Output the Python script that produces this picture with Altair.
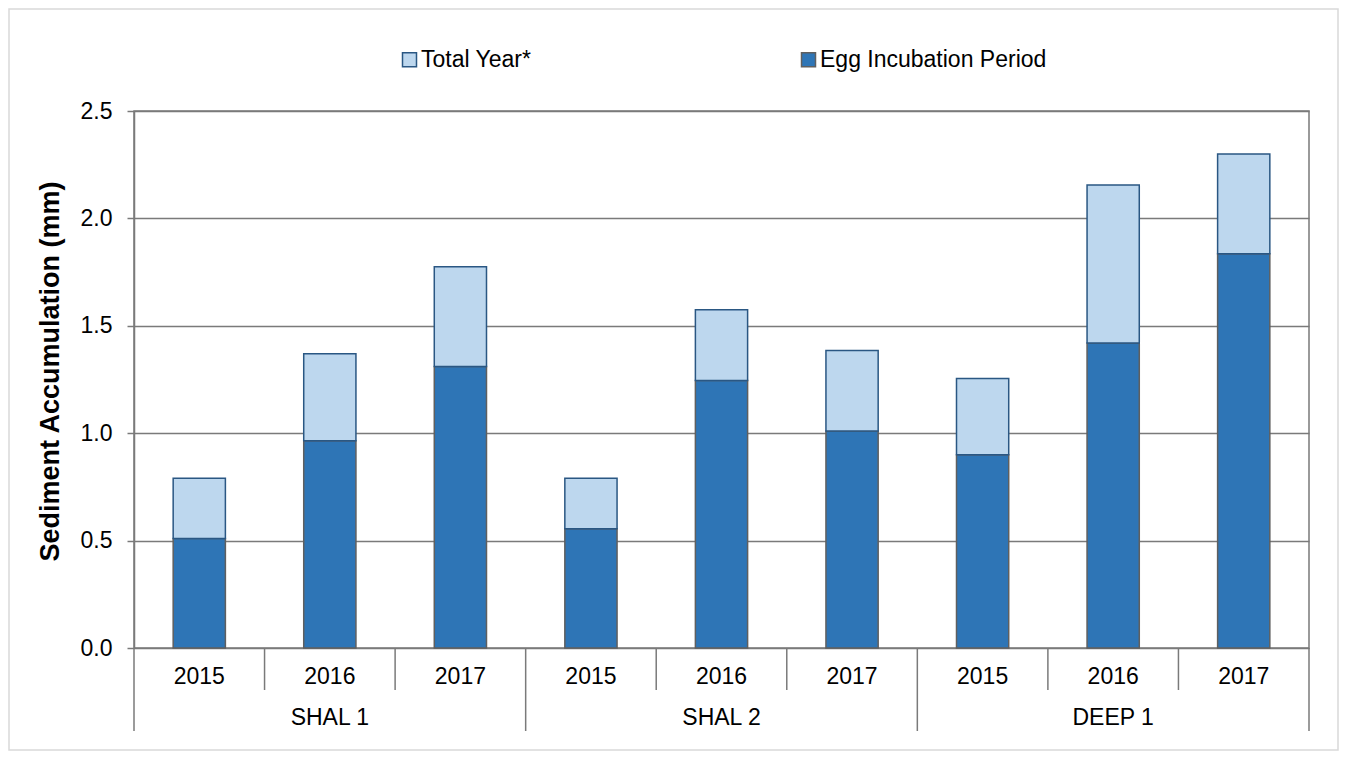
import altair as alt
import pandas as pd

# ---- data ----
groups = ["SHAL 1", "SHAL 2", "DEEP 1"]
years = ["2015", "2016", "2017"]
egg_incubation = [0.51, 0.965, 1.31, 0.555, 1.245, 1.01, 0.90, 1.42, 1.835]
total_year = [0.79, 1.37, 1.775, 0.79, 1.575, 1.385, 1.255, 2.155, 2.30]
series_names = ["Total Year*", "Egg Incubation Period"]
y_ticks = [0.0, 0.5, 1.0, 1.5, 2.0, 2.5]

# ---- styling ----
FILLS = ["#BDD7EE", "#2E75B6"]
STROKES = ["#2A5783", "#5F5F5F"]
GRID = "#7A7A7A"
FONT = "Liberation Sans"
W, H = 1175, 537

n_years = len(years)
n_cat = len(groups) * n_years

# bars table (egg drawn first, total segment drawn above it)
rows = []
for i in range(n_cat):
    rows.append({"series": series_names[1], "x0": i + 0.3, "x1": i + 0.7,
                 "y0": 0.0, "y1": egg_incubation[i], "order": 0})
for i in range(n_cat):
    rows.append({"series": series_names[0], "x0": i + 0.3, "x1": i + 0.7,
                 "y0": egg_incubation[i], "y1": total_year[i], "order": 1})
bars_df = pd.DataFrame(rows)

year_df = pd.DataFrame({"xc": [i + 0.5 for i in range(n_cat)],
                        "label": [years[i % n_years] for i in range(n_cat)]})
group_df = pd.DataFrame({"xc": [g * n_years + n_years / 2 for g in range(len(groups))],
                         "label": groups})
short_df = pd.DataFrame({"b": [i for i in range(1, n_cat) if i % n_years != 0]})
long_df = pd.DataFrame({"b": [g * n_years for g in range(len(groups) + 1)]})
frame_df = pd.DataFrame({"k": [0]})

xs = alt.Scale(domain=[0, n_cat], nice=False, zero=False)

legend = alt.Legend(
    title=None, orient="none", legendX=264, legendY=-63, direction="horizontal",
    symbolType="square", symbolSize=196, symbolStrokeWidth=1.5,
    labelFontSize=23, labelFont=FONT, labelColor="black", labelOffset=0,
    labelLimit=500, columnPadding=265, padding=0,
)

bars = alt.Chart(bars_df).mark_bar(strokeWidth=1.5).encode(
    x=alt.X("x0:Q", scale=xs, axis=None),
    x2="x1:Q",
    y=alt.Y(
        "y0:Q",
        scale=alt.Scale(domain=[0, 2.5], nice=False),
        axis=alt.Axis(
            values=y_ticks, format=".1f", title="Sediment Accumulation (mm)",
            labelFontSize=23, labelFont=FONT, labelColor="black", labelPadding=15,
            tickSize=7, tickColor=GRID, tickWidth=1.5,
            domainColor=GRID, domainWidth=1.5,
            grid=True, gridColor=GRID, gridWidth=1.4,
            titleFontSize=27, titleFont=FONT, titleFontWeight="bold", titleColor="black",
            titleX=-76, titleY=260, titleBaseline="alphabetic", titleAlign="center",
            titleAngle=270,
        ),
    ),
    y2="y1:Q",
    fill=alt.Fill("series:N", scale=alt.Scale(domain=series_names, range=FILLS), legend=legend),
    stroke=alt.Stroke("series:N", scale=alt.Scale(domain=series_names, range=STROKES), legend=legend),
    order=alt.Order("order:Q"),
)

short_rules = alt.Chart(short_df).mark_rule(color=GRID, strokeWidth=1.5).encode(
    x=alt.X("b:Q", scale=xs, axis=None),
    y=alt.value(H),
    y2=alt.value(H + 42),
)
long_rules = alt.Chart(long_df).mark_rule(color=GRID, strokeWidth=1.5).encode(
    x=alt.X("b:Q", scale=xs, axis=None),
    y=alt.value(H),
    y2=alt.value(H + 83),
)

year_text = alt.Chart(year_df).mark_text(
    fontSize=23, font=FONT, color="black", align="center", baseline="alphabetic"
).encode(
    x=alt.X("xc:Q", scale=xs, axis=None),
    y=alt.value(H + 36),
    text="label:N",
)
group_text = alt.Chart(group_df).mark_text(
    fontSize=23, font=FONT, color="black", align="center", baseline="alphabetic"
).encode(
    x=alt.X("xc:Q", scale=xs, axis=None),
    y=alt.value(H + 77),
    text="label:N",
)

frame = alt.Chart(frame_df).mark_rect(fillOpacity=0, stroke="#D9D9D9", strokeWidth=1.5).encode(
    x=alt.value(-125), x2=alt.value(1204), y=alt.value(-102), y2=alt.value(639)
)

chart = alt.layer(frame, bars, short_rules, long_rules, year_text, group_text).properties(
    width=W, height=H,
    padding={"left": 126, "top": 103, "right": 30, "bottom": 103},
    autosize=alt.AutoSizeParams(type="none"),
    background="white",
).configure_view(stroke=GRID, strokeWidth=1.5)

chart.save("out.html", embed_options={"renderer": "svg", "actions": False})
